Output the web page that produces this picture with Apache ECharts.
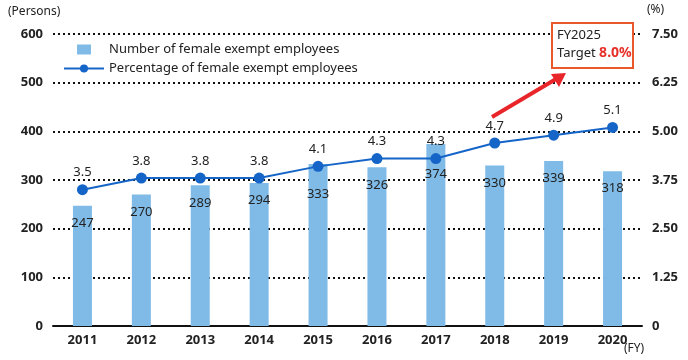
<!DOCTYPE html>
<html><head><meta charset="utf-8">
<script src="https://cdn.jsdelivr.net/npm/echarts@6/dist/echarts.min.js"></script>
<style>html,body{margin:0;padding:0;background:#fff}#c{width:688px;height:360px}</style>
</head><body><div id="c"></div>
<script>
const categories = ['2011','2012','2013','2014','2015','2016','2017','2018','2019','2020'];
const employees = [247, 270, 289, 294, 333, 326, 374, 330, 339, 318];
const percentage = [3.5, 3.8, 3.8, 3.8, 4.1, 4.3, 4.3, 4.7, 4.9, 5.1];
const leftTicks = {min: 0, max: 600, interval: 100};
const rightTicks = {min: 0, max: 7.5, interval: 1.25};

const FONT = '"Noto Sans", "DejaVu Sans", sans-serif';
// bar labels sit inside the bar top; push a label lower where the line marker would cover it
const barData = employees.map((v, i) => {
  const yLeftOfLine = percentage[i] / rightTicks.max * leftTicks.max;
  const clash = yLeftOfLine < v && v - yLeftOfLine < 40;
  return clash ? {value: v, label: {distance: 24}} : v;
});

const chart = echarts.init(document.getElementById('c'));
chart.setOption({
  animation: false,
  textStyle: {fontFamily: FONT},
  grid: {left: 53, right: 46, top: 34, bottom: 34, containLabel: false},
  legend: {
    orient: 'vertical', left: 58, top: 38, itemGap: 6,
    itemWidth: 40, itemHeight: 10,
    textStyle: {fontSize: 13, color: '#222', fontFamily: FONT},
    data: [
      {name: 'Number of female exempt employees', icon: 'path://M13,0H27V10H13Z'},
      {name: 'Percentage of female exempt employees'}
    ]
  },
  xAxis: {
    type: 'category', data: categories,
    axisLine: {lineStyle: {color: '#111', width: 2}},
    axisTick: {show: false},
    axisLabel: {color: '#222', fontWeight: 'bold', fontSize: 13, margin: 8}
  },
  yAxis: [
    {type: 'value', min: leftTicks.min, max: leftTicks.max, interval: leftTicks.interval,
     axisLine: {show: false}, axisTick: {show: false},
     axisLabel: {color: '#222', fontWeight: 'bold', fontSize: 13, margin: 10},
     splitLine: {lineStyle: {color: '#111', type: [2, 3], width: 2}}},
    {type: 'value', min: rightTicks.min, max: rightTicks.max, interval: rightTicks.interval,
     axisLine: {show: false}, axisTick: {show: false},
     axisLabel: {color: '#222', fontWeight: 'bold', fontSize: 13, margin: 10,
       formatter: v => v === 0 ? '0' : v.toFixed(2)},
     splitLine: {show: false}}
  ],
  series: [
    {name: 'Number of female exempt employees', type: 'bar', data: barData,
     barWidth: 19, itemStyle: {color: '#7fbbe6'},
     label: {show: true, position: 'insideTop', distance: 11, color: '#222', fontSize: 13}},
    {name: 'Percentage of female exempt employees', type: 'line', yAxisIndex: 1, data: percentage,
     symbol: 'circle', symbolSize: 11, z: 5,
     lineStyle: {color: '#1565c8', width: 2}, itemStyle: {color: '#1565c8'},
     label: {show: true, position: 'top', distance: 5, color: '#222', fontSize: 13,
       formatter: p => p.value.toFixed(1)}}
  ],
  graphic: [
    {type: 'text', left: 8, top: 6, z: 100, style: {text: '(Persons)', fontSize: 12, fill: '#222', fontFamily: FONT}},
    {type: 'text', left: 647, top: 4, z: 100, style: {text: '(%)', fontSize: 12, fill: '#222', fontFamily: FONT}},
    {type: 'text', left: 624, top: 343, z: 100, style: {text: '(FY)', fontSize: 12, fill: '#222', fontFamily: FONT}},
    {type: 'line', z: 100, shape: {x1: 492, y1: 117, x2: 556, y2: 79}, style: {stroke: '#e8262a', lineWidth: 4}},
    {type: 'polygon', z: 100, shape: {points: [[566, 73], [551, 74], [559, 87]]}, style: {fill: '#e8262a'}},
    {type: 'rect', z: 100, shape: {x: 552, y: 23, width: 81, height: 45}, style: {fill: '#fff', stroke: '#e8582a', lineWidth: 2}},
    {type: 'text', z: 101, left: 557, top: 29, style: {text: 'FY2025', fontSize: 13, fill: '#222', fontFamily: FONT}},
    {type: 'text', z: 101, left: 557, top: 46, style: {
      rich: {a: {fontSize: 13, fill: '#222', fontFamily: FONT}, b: {fontSize: 14, fill: '#e8302a', fontWeight: 'bold', fontFamily: FONT}},
      text: '{a|Target }{b|8.0%}'}}
  ]
});
</script></body></html>
